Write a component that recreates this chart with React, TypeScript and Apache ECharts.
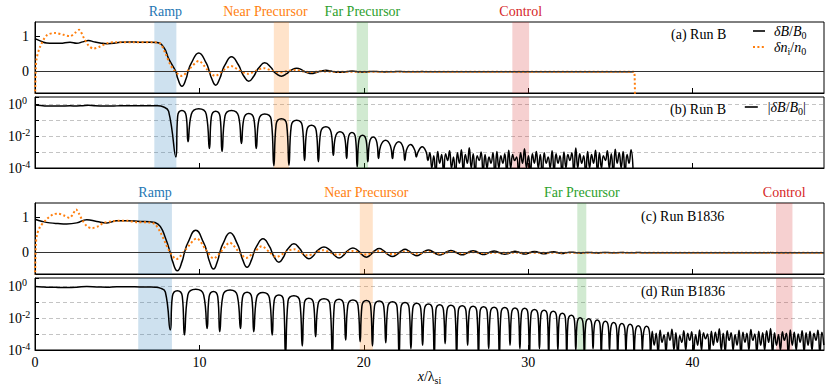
import { useEffect, useRef } from 'react';
import * as echarts from 'echarts';

// ---------- data ----------
const xTicks = [0, 10, 20, 30, 40];
const linTicks = [0, 1];
const logTicks = [-4, -2, 0];

const bandsB = [
  { name: 'Ramp', from: 7.26, to: 8.6 },
  { name: 'Near Precursor', from: 14.53, to: 15.45 },
  { name: 'Far Precursor', from: 19.57, to: 20.26 },
  { name: 'Control', from: 29.04, to: 30.06 },
];
const bandsB1836 = [
  { name: 'Ramp', from: 6.28, to: 8.33 },
  { name: 'Near Precursor', from: 19.76, to: 20.55 },
  { name: 'Far Precursor', from: 32.99, to: 33.54 },
  { name: 'Control', from: 45.08, to: 46.08 },
];

// Run B: deltaB/B0
const blackA: number[][] = [
  [0, 0.93], [0.35, 0.86], [0.71, 0.81], [1.1, 0.8], [1.52, 0.8], [2.13, 0.83], [2.54, 0.8], [2.9, 0.84], [3.25, 0.88], [3.6, 0.84],
  [3.96, 0.81], [4.37, 0.79], [4.8, 0.8], [5.18, 0.83], [5.8, 0.84], [6.4, 0.83], [7.0, 0.83], [7.42, 0.82], [7.83, 0.69], [8.13, 0.37],
  [8.57, 0.0005], [8.68, -0.185], [8.94, -0.41], [9.2, -0.185],
  [9.31, 0.0045], [9.51, 0.24], [9.96, 0.53], [10.42, 0.24],
  [10.61, 0.0017], [10.73, -0.17], [10.99, -0.38], [11.26, -0.17],
  [11.38, 0.0011], [11.56, 0.19], [11.95, 0.42], [12.38, 0.19],
  [12.56, 0.0035], [12.7, -0.12], [13.0, -0.27], [13.32, -0.12],
  [13.46, 0.0017], [13.62, 0.11], [13.97, 0.25], [14.37, 0.11],
  [14.53, 0.00014], [14.67, -0.056], [14.99, -0.125], [15.31, -0.056],
  [15.45, 0.00015], [15.59, 0.045], [15.92, 0.1], [16.26, 0.045],
  [16.4, 0.0003], [16.53, -0.022], [16.82, -0.05], [17.11, -0.022],
  [17.24, 0.00025], [17.38, 0.018], [17.7, 0.04], [18.01, 0.018],
  [18.15, 0.00063], [18.27, -0.0085], [18.55, -0.019], [18.84, -0.0085],
  [18.96, 0.0004], [19.06, 0.0076], [19.28, 0.017], [19.5, 0.0076],
  [19.6, 0.00012], [19.7, -0.0052], [19.93, -0.0115], [20.15, -0.0052],
  [20.25, 0.00025], [20.35, 0.004], [20.58, 0.009], [20.8, 0.004],
  [20.9, 0.0004], [21.03, -0.0025], [21.33, -0.0056], [21.62, -0.0025],
  [21.75, 0.0004], [21.86, 0.002], [22.13, 0.0045], [22.39, 0.002],
  [22.5, 0.0003], [22.6, -0.00135], [22.85, -0.003], [23.1, -0.00135],
  [23.2, 0.0005], [23.3, 0.001], [23.55, 0.0022], [23.8, 0.001],
  [23.9, 0.0003],
];
// Run B noise floor, sampled every noiseStep from noiseBStart
const noiseBStart = 24.02;
const noiseB = [
  0.0009, 0.0001, 0.0006, 0.00004, 0.0011, 0.0002, 0.0007, 0.00005, 0.0008, 0.0003,
  0.0012, 0.0001, 0.0005, 0.00003, 0.0009, 0.0002, 0.0014, 0.00006, 0.0007, 0.0002,
  0.0019, 0.0001, 0.0008, 0.00004, 0.0006, 0.0003, 0.001, 0.00005, 0.0007, 0.0001,
  0.0005, 0.0002, 0.0009, 0.00003, 0.0011, 0.0001, 0.0006, 0.0002, 0.0008, 0.00005,
  0.0013, 0.0001, 0.0007, 0.0003, 0.0005, 0.00004, 0.0009, 0.0002, 0.0016, 0.0001,
  0.0006, 0.00005, 0.0008, 0.0002, 0.0011, 0.0001, 0.0007, 0.00003, 0.0009, 0.0002,
  0.0005, 0.0001, 0.0012, 0.00006, 0.0008, 0.0002, 0.0006, 0.00004, 0.001, 0.0001,
  0.0007, 0.0003, 0.0009, 0.00005, 0.0018, 0.0001, 0.0008, 0.0002, 0.0006, 0.00004,
  0.0011, 0.0001, 0.0007, 0.0002, 0.0013, 0.00005, 0.0009, 0.0001, 0.0006, 0.0003,
  0.0012, 0.0001, 0.0008, 0.00004, 0.0015, 0.0002, 0.0009, 0.0001, 0.0011, 0.00005,
  0.0007, 0.0002, 0.0014, 0.0001,
];
// Run B: delta n_i / n0
const orangeA: number[][] = [
  [0, -0.8], [0.05, 0.1], [0.1, 0.37], [0.3, 0.69], [0.71, 1.02], [1.22, 1.09], [1.73, 1.04], [2.13, 1.0], [2.45, 1.1], [2.68, 1.18],
  [2.95, 0.97], [3.25, 0.74], [3.56, 0.65], [3.96, 0.71], [4.37, 0.8], [4.88, 0.83], [6.0, 0.83], [7.22, 0.83], [7.62, 0.79], [7.93, 0.52],
  [8.23, 0.2], [8.54, 0.0], [8.94, -0.12], [9.4, 0.08], [9.96, 0.3], [10.5, 0.05], [10.97, -0.12], [11.45, 0.04], [11.93, 0.16], [12.45, 0.03],
  [12.96, -0.06], [13.45, 0.03], [13.92, 0.1], [14.4, 0.03], [14.87, -0.015], [15.35, 0.02], [15.85, 0.05], [16.35, 0.005], [16.85, -0.01], [17.4, 0.01],
  [18.2, 0], [36.45, 0], [36.5, -0.8],
];

// Run B1836: deltaB/B0
const blackC: number[][] = [
  [0, 0.94], [0.45, 0.88], [0.9, 0.84], [1.4, 0.82], [1.93, 0.81], [2.54, 0.84], [3.15, 0.93], [3.76, 0.88], [4.37, 0.84], [4.98, 0.9],
  [5.6, 0.9], [6.4, 0.88], [7.0, 0.87], [7.3, 0.85], [7.62, 0.74], [7.93, 0.42],
  [8.23, 0.0018], [8.36, -0.23], [8.66, -0.51], [8.96, -0.23],
  [9.09, 0.00087], [9.3, 0.28], [9.78, 0.63], [10.26, 0.28],
  [10.47, 0.0022], [10.59, -0.21], [10.86, -0.46], [11.12, -0.21],
  [11.24, 0.0014], [11.43, 0.25], [11.87, 0.56], [12.31, 0.25],
  [12.5, 0.0022], [12.62, -0.18], [12.9, -0.41], [13.19, -0.18],
  [13.31, 0.0014], [13.48, 0.18], [13.87, 0.39], [14.26, 0.18],
  [14.43, 0.00087], [14.55, -0.12], [14.84, -0.27], [15.12, -0.12],
  [15.24, 0.00005], [15.39, 0.11], [15.75, 0.25], [16.11, 0.11],
  [16.26, 0.00018], [16.38, -0.077], [16.66, -0.17], [16.95, -0.077],
  [17.07, 0.00068], [17.22, 0.072], [17.58, 0.16], [17.94, 0.072],
  [18.09, 0.00005], [18.21, -0.067], [18.5, -0.148], [18.78, -0.067],
  [18.9, 0.00042], [19.03, 0.061], [19.34, 0.135], [19.65, 0.061],
  [19.78, 0.00033], [19.89, -0.057], [20.16, -0.126], [20.42, -0.057],
  [20.53, 0.00018], [20.65, 0.052], [20.94, 0.115], [21.22, 0.052],
  [21.34, 0.00028], [21.46, -0.047], [21.75, -0.105], [22.03, -0.047],
  [22.15, 0.00005], [22.26, 0.042], [22.51, 0.094], [22.76, 0.042],
  [22.87, 0.00012], [22.98, -0.037], [23.23, -0.083], [23.47, -0.037],
  [23.58, 0.0002], [23.69, 0.034], [23.94, 0.075], [24.18, 0.034],
  [24.29, 0.00005], [24.39, -0.031], [24.62, -0.068], [24.85, -0.031],
  [24.95, 0.00025], [25.06, 0.028], [25.3, 0.063], [25.55, 0.028],
  [25.65, 0.00005], [25.75, -0.027], [25.99, -0.059], [26.22, -0.027],
  [26.32, 0.0002], [26.42, 0.025], [26.65, 0.055], [26.88, 0.025],
  [26.98, 0.00005], [27.07, -0.023], [27.29, -0.05], [27.51, -0.023],
  [27.6, 0.00012], [27.7, 0.021], [27.93, 0.047], [28.15, 0.021],
  [28.25, 0.00005], [28.35, -0.02], [28.58, -0.045], [28.8, -0.02],
  [28.9, 0.0002], [28.99, 0.019], [29.2, 0.042], [29.41, 0.019],
  [29.5, 0.00012], [29.59, -0.018], [29.79, -0.04], [29.99, -0.018],
  [30.08, 0.00005], [30.17, 0.015], [30.39, 0.034], [30.6, 0.015],
  [30.69, 0.00012], [30.77, -0.0135], [30.97, -0.03], [31.17, -0.0135],
  [31.25, 0.00005], [31.33, 0.012], [31.53, 0.026], [31.73, 0.012],
  [31.81, 0.0001], [31.89, -0.009], [32.08, -0.02], [32.27, -0.009],
  [32.35, 0.00005], [32.43, 0.0068], [32.63, 0.015], [32.82, 0.0068],
  [32.9, 0.0001], [32.98, -0.0047], [33.16, -0.0105], [33.34, -0.0047],
  [33.42, 0.00006], [33.5, 0.004], [33.69, 0.009], [33.87, 0.004],
  [33.95, 0.00012], [34.03, -0.0034], [34.2, -0.0075], [34.38, -0.0034],
  [34.45, 0.00005], [34.53, 0.0028], [34.7, 0.0062], [34.88, 0.0028],
  [34.95, 0.0001], [35.03, -0.0023], [35.2, -0.0052], [35.38, -0.0023],
  [35.45, 0.00005], [35.53, 0.0021], [35.7, 0.0046], [35.88, 0.0021],
  [35.95, 0.00008], [36.03, -0.0018], [36.2, -0.004], [36.38, -0.0018],
  [36.45, 0.00005], [36.53, 0.0015], [36.7, 0.0033], [36.88, 0.0015],
  [36.95, 0.0001], [37.03, -0.0013], [37.2, -0.003], [37.38, -0.0013],
  [37.45, 0.00005],
];
const noiseDStart = 37.55;
const noiseD = [
  0.0015, 0.0002, 0.0011, 0.00006, 0.0017, 0.0003, 0.0009, 0.00008, 0.0013, 0.0004, 0.002,
  0.0001, 0.0012, 0.00005, 0.0008, 0.0003, 0.0016, 0.0001, 0.0011, 0.0004, 0.0014, 0.00007,
  0.0009, 0.0002, 0.0018, 0.0001, 0.0012, 0.0005, 0.001, 0.00006, 0.0015, 0.0002, 0.0013,
  0.0003, 0.0021, 0.0001, 0.0011, 0.00008, 0.0016, 0.0004, 0.0012, 0.0001, 0.0009, 0.0002,
  0.0017, 0.00005, 0.0013, 0.0003, 0.0011, 0.0001, 0.0019, 0.0004, 0.001, 0.00007, 0.0015,
  0.0002, 0.0012, 0.0001, 0.0016, 0.0003, 0.0022, 0.00006, 0.0012, 0.0002, 0.0009, 0.0001,
  0.0014, 0.0004, 0.0011, 0.00005, 0.0018, 0.0002, 0.0013, 0.0001, 0.001, 0.0003, 0.0016,
  0.00008, 0.0012, 0.0002, 0.0015, 0.0001, 0.0011, 0.0004, 0.0017, 0.00006, 0.0013, 0.0002,
];
const noiseStep = 0.12;

// Run B1836: delta n_i / n0
const orangeC: number[][] = [
  [0, -0.8], [0.05, 0.2], [0.12, 0.5], [0.3, 0.72], [0.7, 0.94], [1.1, 1.08], [1.4, 1.1], [1.8, 1.04], [2.1, 0.98], [2.3, 1.08],
  [2.5, 1.22], [2.68, 1.1], [2.85, 0.94], [3.15, 0.75], [3.45, 0.69], [3.86, 0.75], [4.17, 0.84], [4.67, 0.88], [5.18, 0.9], [5.6, 0.9],
  [6.2, 0.86], [7.0, 0.85], [7.3, 0.8], [7.6, 0.6], [7.93, 0.28], [8.23, 0.0], [8.6, -0.18], [9.15, 0.08], [9.84, 0.4], [10.4, 0.08],
  [10.87, -0.16], [11.3, 0.02], [11.85, 0.28], [12.4, 0.03], [12.85, -0.15], [13.3, 0.0], [13.8, 0.18], [14.3, 0.0], [14.7, -0.12], [15.2, 0.0],
  [15.75, 0.1], [16.2, 0.0], [16.6, -0.08], [17.05, 0.0], [17.5, 0.07], [18.0, 0.0], [18.4, -0.06], [18.85, 0.0], [19.3, 0.05], [19.75, 0.0],
  [20.15, -0.05], [20.55, 0.0], [20.95, 0.045], [21.35, 0.0], [21.75, -0.04], [22.15, 0.0], [22.5, 0.035], [22.9, 0.0], [23.2, -0.03], [23.6, 0.0],
  [23.95, 0.028], [24.3, 0.0], [24.6, -0.025], [25.0, 0.0], [25.3, 0.02], [25.7, 0.0], [26.0, -0.018], [26.3, 0.0], [26.65, 0.015], [27.0, 0.0],
  [27.3, -0.012], [28.0, 0.0], [48, 0.0],
];

// ---------- styles ----------
const serif = "'Liberation Serif', 'Times New Roman', serif";
const bandRGB: Record<string, string> = {
  Ramp: '31,119,180',
  'Near Precursor': '255,127,14',
  'Far Precursor': '44,160,44',
  Control: '214,39,40',
};
const labelOffsetB: Record<string, number[]> = { 'Near Precursor': [-16, 0] };

const withNoise = (pts: number[][], start: number, noise: number[]) =>
  pts.concat(noise.map((v, i) => [start + i * noiseStep, v]));
const toLog = (pts: number[][]) => pts.map(([x, y]) => [x, Math.log10(Math.max(Math.abs(y), 1e-7))]);

const mathRich = {
  i: { fontFamily: serif, fontStyle: 'italic', fontSize: 14, lineHeight: 18, color: '#000', verticalAlign: 'middle' },
  n: { fontFamily: serif, fontSize: 14, lineHeight: 18, color: '#000', verticalAlign: 'middle' },
  sub: { fontFamily: serif, fontSize: 10, lineHeight: 10, color: '#000', verticalAlign: 'bottom' },
  sup: { fontFamily: serif, fontSize: 10, lineHeight: 10, color: '#000', verticalAlign: 'top' },
};

function areas(bands: { name: string; from: number; to: number }[], labeled: boolean, offsets: Record<string, number[]> = {}) {
  return {
    silent: true,
    data: bands.map((b) => [
      {
        xAxis: b.from,
        name: b.name,
        itemStyle: { color: `rgba(${bandRGB[b.name]},0.22)` },
        label: {
          show: labeled,
          position: 'top',
          distance: 4,
          offset: offsets[b.name] || [0, 0],
          color: `rgb(${bandRGB[b.name]})`,
          fontFamily: serif,
          fontSize: 14,
        },
      },
      { xAxis: b.to },
    ]),
  };
}

const zeroLine = {
  silent: true,
  symbol: ['none', 'none'],
  label: { show: false },
  lineStyle: { color: '#333', width: 1, type: 'solid' },
  data: [{ yAxis: 0 }],
};

function xAxisFor(i: number, showLabels: boolean) {
  return {
    gridIndex: i,
    type: 'value',
    min: 0,
    max: 48,
    interval: 10,
    axisLine: { show: true, onZero: false, lineStyle: { color: '#000', width: 1 } },
    axisTick: { show: true, inside: true, length: 5, customValues: xTicks, lineStyle: { color: '#000' } },
    axisLabel: { show: showLabels, customValues: xTicks, color: '#000', fontFamily: serif, fontSize: 14, margin: 5 },
    splitLine: { show: false },
    name: showLabels ? '{i|x}{n|/λ}{sub|si}' : '',
    nameLocation: 'middle',
    nameGap: 16,
    nameTextStyle: { rich: mathRich },
  };
}

function linYAxis(i: number) {
  return {
    gridIndex: i,
    type: 'value',
    min: -0.6,
    max: 1.4,
    axisLine: { show: true, onZero: false, lineStyle: { color: '#000', width: 1 } },
    axisTick: { show: true, inside: true, length: 5, customValues: linTicks, lineStyle: { color: '#000' } },
    axisLabel: { customValues: linTicks, color: '#000', fontFamily: serif, fontSize: 14, margin: 6 },
    splitLine: { show: false },
  };
}

function logYAxis(i: number, max: number) {
  return {
    gridIndex: i,
    type: 'value',
    min: -4,
    max,
    interval: 1,
    axisLine: { show: true, onZero: false, lineStyle: { color: '#000', width: 1 } },
    axisTick: { show: true, inside: true, length: 4, lineStyle: { color: '#000' } },
    axisLabel: {
      customValues: logTicks,
      align: 'left',
      margin: 27,
      formatter: (v: number) => `{b|10}{s|${v}}`,
      rich: {
        b: { fontFamily: serif, fontSize: 14, lineHeight: 18, color: '#000', verticalAlign: 'middle' },
        s: { fontFamily: serif, fontSize: 10, lineHeight: 10, color: '#000', verticalAlign: 'top' },
      },
    },
    splitLine: {
      show: true,
      showMinLine: false,
      showMaxLine: false,
      lineStyle: { color: '#c4c4c4', width: 1, type: [4, 3] },
    },
  };
}

const legendText: Record<string, string> = {
  dBa: '{i|δB}{n|/}{i|B}{sub|0}',
  dna: '{i|δn}{sub|i}{n|/}{i|n}{sub|0}',
  absBb: '{n||}{i|δB}{n|/}{i|B}{sub|0}{n||}',
};

function buildOption() {
  const linA = withNoise(blackA, noiseBStart, noiseB);
  const linC = withNoise(blackC, noiseDStart, noiseD);
  const blackLine = { color: '#000', width: 1.5 };
  const orangeLine = { color: '#ff7f0e', width: 2, type: [2, 2.4] };
  const common = { type: 'line', symbol: 'none', showSymbol: false, clip: true, emphasis: { disabled: true } };
  const titleStyle = { fontFamily: serif, fontSize: 14, fontWeight: 'normal', color: '#000' };
  const legendBase = {
    orient: 'vertical',
    itemHeight: 10,
    itemGap: 0,
    padding: 0,
    selectedMode: false,
    itemStyle: { opacity: 0 },
    formatter: (n: string) => legendText[n],
  };
  return {
    animation: false,
    backgroundColor: '#fff',
    grid: [
      { left: 35, right: 6, top: 22, height: 71, show: true, borderColor: '#000', borderWidth: 1 },
      { left: 35, right: 6, top: 97, height: 71, show: true, borderColor: '#000', borderWidth: 1 },
      { left: 35, right: 6, top: 203, height: 71, show: true, borderColor: '#000', borderWidth: 1 },
      { left: 35, right: 6, top: 278, height: 72, show: true, borderColor: '#000', borderWidth: 1 },
    ],
    xAxis: [xAxisFor(0, false), xAxisFor(1, false), xAxisFor(2, false), xAxisFor(3, true)],
    yAxis: [linYAxis(0), logYAxis(1, 0.47), linYAxis(2), logYAxis(3, 0.5)],
    title: [
      { text: '(a) Run B', left: 671, top: 27, padding: 0, textStyle: titleStyle },
      { text: '(b) Run B', left: 670, top: 102, padding: 0, textStyle: titleStyle },
      { text: '(c) Run B1836', left: 641, top: 209, padding: 0, textStyle: titleStyle },
      { text: '(d) Run B1836', left: 641, top: 284, padding: 0, textStyle: titleStyle },
    ],
    legend: [
      {
        ...legendBase,
        data: [
          { name: 'dBa', itemStyle: { opacity: 0 }, lineStyle: { color: '#000', width: 1.6, type: 'solid' } },
          { name: 'dna', itemStyle: { opacity: 0 }, lineStyle: { color: '#ff7f0e', width: 2, type: [2, 2.4] } },
        ],
        left: 752,
        top: 24,
        itemWidth: 12,
        textStyle: { rich: mathRich, padding: [0, 0, 0, 4] },
      },
      {
        ...legendBase,
        data: [{ name: 'absBb', itemStyle: { opacity: 0 }, lineStyle: { color: '#000', width: 1.6, type: 'solid' } }],
        left: 744,
        top: 100,
        itemWidth: 13,
        textStyle: { rich: mathRich, padding: [0, 0, 0, 5] },
      },
    ],
    series: [
      { ...common, name: 'dBa', xAxisIndex: 0, yAxisIndex: 0, data: linA, smooth: 0.5, lineStyle: blackLine, itemStyle: { color: '#000' }, z: 3, markArea: areas(bandsB, true, labelOffsetB), markLine: zeroLine },
      { ...common, name: 'dna', xAxisIndex: 0, yAxisIndex: 0, data: orangeA, smooth: 0.3, lineStyle: orangeLine, itemStyle: { color: '#ff7f0e' }, z: 4 },
      { ...common, name: 'absBb', xAxisIndex: 1, yAxisIndex: 1, data: toLog(linA), smooth: 0.5, lineStyle: blackLine, itemStyle: { color: '#000' }, z: 3, markArea: areas(bandsB, false) },
      { ...common, name: 'dBc', xAxisIndex: 2, yAxisIndex: 2, data: linC, smooth: 0.5, lineStyle: blackLine, itemStyle: { color: '#000' }, z: 3, markArea: areas(bandsB1836, true), markLine: zeroLine },
      { ...common, name: 'dnc', xAxisIndex: 2, yAxisIndex: 2, data: orangeC, smooth: 0.3, lineStyle: orangeLine, itemStyle: { color: '#ff7f0e' }, z: 4 },
      { ...common, name: 'absBd', xAxisIndex: 3, yAxisIndex: 3, data: toLog(linC), smooth: 0.5, lineStyle: blackLine, itemStyle: { color: '#000' }, z: 3, markArea: areas(bandsB1836, false) },
    ],
  };
}

export default function App() {
  const ref = useRef<HTMLDivElement>(null);
  useEffect(() => {
    if (!ref.current) return;
    const chart = echarts.init(ref.current, null, { renderer: 'svg' });
    chart.setOption(buildOption() as any);
    return () => chart.dispose();
  }, []);
  return (
    <div
      ref={ref}
      style={{ position: 'fixed', left: 0, top: 0, width: 830, height: 389, background: '#fff' }}
    />
  );
}
